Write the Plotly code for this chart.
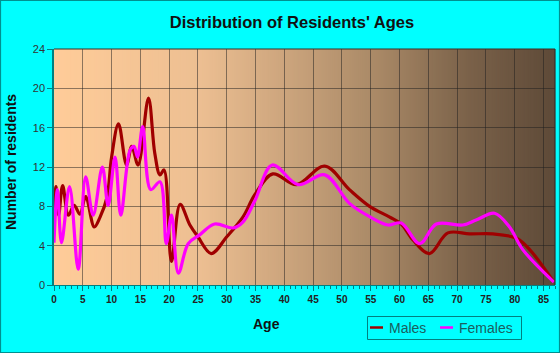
import plotly.graph_objects as go

# ---- data ----
male_age = [0, 0.35, 0.8, 1.5, 2.5, 3.5, 4.5, 5.5, 7.0, 8.0, 9.2, 10.0, 11.2, 12.6, 13.5, 14.6,
            16.4, 17.5, 18.4, 19.1, 20.4, 21.9, 23.6, 25.0, 27.3, 30.0, 32.8, 34.9, 38.0, 42.1,
            47.0, 51.3, 54.8, 58.3, 60.3, 62.3, 65.2, 68.4, 72.2, 76.2, 80.3, 82.6, 86.8]
male_val = [6.0, 10.0, 7.1, 10.1, 7.1, 8.1, 7.2, 9.0, 5.9, 6.9, 8.9, 13.0, 16.4, 12.2, 14.1, 12.2,
            19.0, 13.4, 11.2, 11.7, 2.4, 8.2, 6.1, 4.9, 3.2, 4.9, 6.9, 9.2, 11.3, 10.2,
            12.1, 9.7, 8.0, 6.9, 6.2, 4.6, 3.2, 5.3, 5.2, 5.2, 4.75, 3.6, 0.3]

female_age = [0, 0.6, 1.3, 2.7, 4.2, 5.5, 6.8, 8.4, 9.4, 10.6, 11.6, 13.2, 13.9, 14.5, 15.4, 16.8,
              18.4, 19.5, 20.4, 21.6, 23.3, 25.3, 27.9, 31.1, 32.8, 34.9, 37.9, 42.4, 47.0, 51.3,
              54.8, 58.0, 60.3, 63.5, 66.4, 71.0, 73.3, 76.5, 79.1, 81.4, 86.8]
female_val = [4.3, 9.7, 4.3, 10.0, 1.6, 11.0, 7.1, 12.0, 8.1, 13.0, 7.1, 13.7, 14.1, 13.0, 16.1, 9.7,
              10.5, 4.2, 7.1, 1.2, 4.2, 5.1, 6.2, 5.8, 6.4, 8.6, 12.2, 10.2, 11.2, 8.3,
              6.95, 6.1, 6.3, 4.2, 6.2, 6.1, 6.6, 7.3, 5.9, 3.6, 0.3]

x_ticks = list(range(0, 90, 5))
y_ticks = list(range(0, 28, 4))

series_names = ["Males", "Females"]
series_colors = ["#A00000", "#FF00FF"]

# ---- geometry helpers (pixels -> paper) ----
W, H = 560, 353
L, R, T, B = 54, 5, 49, 68
PW, PH = W - L - R, H - T - B
def px(x):
    return (x - L) / PW
def py(y):
    return (H - B - y) / PH

TEAL = "#008080"
FONT = "Liberation Sans, Arial"

fig = go.Figure()
for xs, ys, nm, c in [(male_age, male_val, series_names[0], series_colors[0]),
                      (female_age, female_val, series_names[1], series_colors[1])]:
    fig.add_trace(go.Scatter(x=xs, y=ys, name=nm, mode="lines",
                             line=dict(color=c, width=3.2, shape="spline", smoothing=1.0)))

# gradient background for the plot area
stops = [(0.0, (255, 204, 153)), (0.29, (237, 191, 146)), (0.65, (168, 136, 102)),
         (0.83, (122, 97, 73)), (1.0, (94, 74, 56))]
def col(t):
    for (t0, c0), (t1, c1) in zip(stops[:-1], stops[1:]):
        if t <= t1:
            f = (t - t0) / (t1 - t0)
            return "rgb(%d,%d,%d)" % tuple(round(a + (b - a) * f) for a, b in zip(c0, c1))
    return "rgb(%d,%d,%d)" % stops[-1][1]

shapes = []
N = 250
for i in range(N):
    t0 = i / N
    t1 = (i + 1.6) / N
    shapes.append(dict(type="rect", xref="paper", yref="paper", x0=t0, x1=min(t1, 1), y0=0, y1=1,
                       fillcolor=col((i + 0.5) / N), line=dict(width=0), layer="below"))
# top/right border of plot area
shapes.append(dict(type="line", xref="paper", yref="paper", x0=0, x1=1, y0=1, y1=1,
                   line=dict(color="#3a3028", width=1.2)))
shapes.append(dict(type="line", xref="paper", yref="paper", x0=1, x1=1, y0=0, y1=1,
                   line=dict(color="#3a3028", width=1.2)))
# outer image border
shapes.append(dict(type="rect", xref="paper", yref="paper", x0=px(0.5), x1=px(559.5),
                   y0=py(352.5), y1=py(0.5), line=dict(color="#009090", width=1.2),
                   fillcolor="rgba(0,0,0,0)"))

# custom legend (box, line samples, labels)
shapes.append(dict(type="rect", xref="paper", yref="paper", x0=px(367.5), x1=px(521.5),
                   y0=py(339.5), y1=py(316.5), line=dict(color=TEAL, width=1),
                   fillcolor="rgba(0,0,0,0)"))
legend_items = [(370, 387), (440, 457)]
annotations = []
for (lx, tx), nm, c in zip(legend_items, series_names, series_colors):
    shapes.append(dict(type="line", xref="paper", yref="paper", x0=px(lx), x1=px(lx + 13),
                       y0=py(327.5), y1=py(327.5), line=dict(color=c, width=2.5)))
    annotations.append(dict(text=nm, xref="paper", yref="paper", x=px(tx), y=py(328),
                            showarrow=False, xanchor="left", yanchor="middle",
                            font=dict(size=14, color="#1a6060", family=FONT)))

annotations += [
    dict(text="<b>Age</b>", xref="paper", yref="paper", x=px(266), y=py(324),
         showarrow=False, xanchor="center", yanchor="middle",
         font=dict(size=14, color="#111111", family=FONT)),
    dict(text="<b>Number of residents</b>", xref="paper", yref="paper", x=px(11), y=py(162),
         showarrow=False, xanchor="center", yanchor="middle", textangle=-90,
         font=dict(size=14, color="#111111", family=FONT)),
]

fig.update_layout(
    width=W, height=H,
    margin=dict(l=L, r=R, t=T, b=B),
    paper_bgcolor="#00FFFF",
    plot_bgcolor="rgba(0,0,0,0)",
    shapes=shapes,
    showlegend=False,
    font=dict(family=FONT, color="#333333"),
    title=dict(text="<b>Distribution of Residents' Ages</b>", x=292 / W, xref="container",
               xanchor="center", y=1 - 22.5 / H, yanchor="middle",
               font=dict(size=16.5, color="#111111", family=FONT)),
    annotations=annotations,
)

fig.update_xaxes(range=[0, 87], tickvals=x_ticks, ticks="outside", ticklen=5, tickcolor=TEAL,
                 showline=True, linecolor=TEAL, linewidth=1, zeroline=False,
                 showgrid=True, gridcolor="rgba(30,30,30,0.5)", gridwidth=1,
                 tickfont=dict(size=10, color="#222222", family=FONT),
                 ticktext=["<b>%d</b>" % v for v in x_ticks],
                 minor=dict(dtick=1, tick0=0, ticks="outside", ticklen=3, tickcolor=TEAL, showgrid=False),
                 fixedrange=True)
fig.update_yaxes(range=[0, 24], tickvals=y_ticks, ticks="outside", ticklen=5, tickcolor=TEAL,
                 showline=True, linecolor=TEAL, linewidth=1.5, zeroline=False,
                 showgrid=True, gridcolor="rgba(30,30,30,0.5)", gridwidth=1,
                 tickfont=dict(size=11, color="#333333", family=FONT),
                 fixedrange=True)

fig.write_html("out.html")
